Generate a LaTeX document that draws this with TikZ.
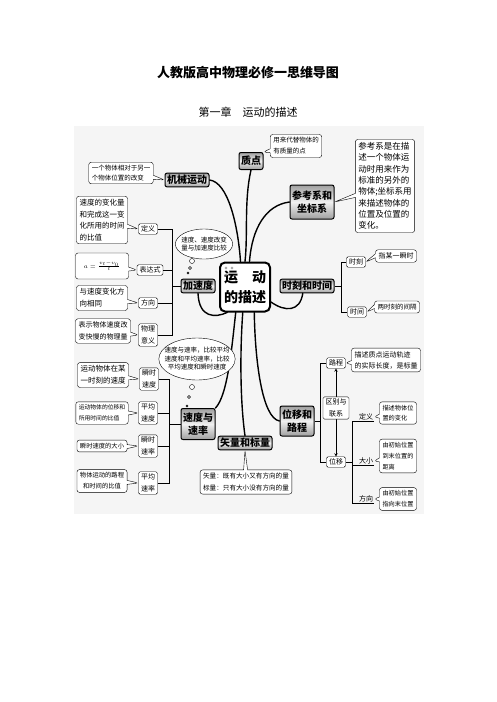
\documentclass[tikz,border=0pt]{standalone}
\usepackage{fontspec}
\setmainfont{Noto Sans CJK SC}
\usetikzlibrary{shapes.callouts,shapes.geometric}
\newcommand{\cochu}[2]{\fontsize{#1}{#2}\selectfont}
\tikzset{
	chude/.style={draw,line width=1pt,rounded corners=2pt,top color=gray!75,bottom color=gray!75,middle color=gray!12,font=\bfseries\cochu{10}{13},inner xsep=2pt,inner ysep=2pt,align=center},
	tam/.style={draw,line width=2pt,rounded corners=5pt,fill=white,minimum width=50pt,minimum height=49pt,font=\bfseries\cochu{14}{20},align=center},
	nhan/.style={draw,rounded corners=1.5pt,fill=white,font=\cochu{7}{12},inner xsep=2.5pt,inner ysep=2pt,align=center},
	ghichu/.style={rectangle callout,draw,rounded corners=2.5pt,fill=white,callout pointer width=4pt,font=\cochu{6.5}{9.5},inner sep=3pt,align=left},
	bongbong/.style={ellipse,draw,fill=white,font=\cochu{6.5}{8.5},align=center},
	nhanh/.style={line width=1.4pt,line cap=round},
	ngoac/.style={line width=.5pt}
}
\begin{document}
\begin{tikzpicture}[x=1pt,y=-1pt]
		\useasboundingbox (0,0) rectangle (496,702);
		% Tiêu đề
		\node[font=\bfseries\cochu{13}{15}] (tieude) at (248,73) {人教版高中物理必修一思维导图};
		\node[font=\cochu{11}{13}] (chuong) at (248,112) {第一章　运动的描述};
		% Nền
		\fill[black!4] (74,126) rectangle (424,514);
		% Nút trung tâm và các chủ đề
		\node[tam] (td) at (245,287) {运\hspace{14pt}动\\的描述};
		\draw[gray] (226,268) circle (1.2) (232,268) circle (1.2) (226,275) circle (1.2);
		\node[chude] (jx) at (187,180) {机械运动};
		\node[chude,minimum height=17pt] (zd) at (251,161) {质点};
		\node[chude,minimum height=34pt] (ckx) at (312,202) {参考系和\\坐标系};
		\node[chude] (jsd) at (198,286) {加速度};
		\node[chude] (sk) at (307,286) {时刻和时间};
		\node[chude,minimum height=31pt] (sdsl) at (198,424) {速度与\\速率};
		\node[chude] (slbl) at (245,443) {矢量和标量};
		\node[chude,minimum height=30pt] (wy) at (297,421) {位移和\\路程};
		% Các nhánh
		\draw[nhanh] (jx.east) .. controls (228,182) and (238,225) .. (td.100);
		\draw[nhanh] (zd.south) .. controls (244,200) and (248,235) .. (td.north);
		\draw[nhanh] (ckx.west) .. controls (266,205) and (252,228) .. (td.80);
		\draw[nhanh] (jsd.south) .. controls (199,318) and (215,318) .. (td.235);
		\draw[nhanh] (sk.240) .. controls (300,312) and (285,312) .. (td.330);
		\draw[nhanh] (sdsl.north east) .. controls (228,395) and (232,345) .. (td.250);
		\draw[nhanh] (slbl.north) .. controls (240,400) and (240,350) .. (td.265);
		\draw[nhanh] (wy.west) .. controls (262,418) and (255,360) .. (td.290);
		% Gia tốc
		\node[nhan] (dy) at (148,229) {定义};
		\node[nhan] (bds) at (150,270) {表达式};
		\node[nhan] (fx) at (148,303) {方向};
		\node[nhan] (wlyy) at (148,335) {物理\\意义};
		\coordinate (g1) at (172,286);
		\draw[ngoac] (dy.east) -| (g1);
		\draw[ngoac] (bds.east) -| (g1);
		\draw[ngoac] (fx.east) -| (g1);
		\draw[ngoac] (wlyy.east) -| (g1);
		\draw[ngoac] (g1) -- (jsd.west);
		% Vận tốc và tốc độ
		\node[nhan] (sssd) at (149,379) {瞬时\\速度};
		\node[nhan] (pjsd) at (148,413) {平均\\速度};
		\node[nhan] (sssl) at (148,446) {瞬时\\速率};
		\node[nhan] (pjsl) at (148,483) {平均\\速率};
		\coordinate (g5) at (169,424);
		\draw[ngoac] (sssd.east) -| (g5);
		\draw[ngoac] (pjsd.east) -| (g5);
		\draw[ngoac] (sssl.east) -| (g5);
		\draw[ngoac] (pjsl.east) -| (g5);
		\draw[ngoac] (g5) -- (sdsl.west);
		% Thời điểm và thời gian
		\node[nhan] (shike) at (356,262) {时刻};
		\node[nhan] (shijian) at (357,312) {时间};
		\coordinate (g2) at (341,286);
		\draw[ngoac] (sk.east) -- (g2);
		\draw[ngoac] (shike.west) -| (g2);
		\draw[ngoac] (shijian.west) -| (g2);
		% Độ dời và quãng đường
		\node[nhan] (lc) at (336,363) {路程};
		\node[nhan] (wyi) at (336,462) {位移};
		\coordinate (g3) at (320,421);
		\draw[ngoac] (wy.east) -- (g3);
		\draw[ngoac] (lc.west) -| (g3);
		\draw[ngoac] (wyi.west) -| (g3);
		\draw[ngoac,<->,>=stealth] (wyi.north) -- (lc.south);
		\node[nhan] (qb) at (336,408) {区别与\\联系};
		\node[font=\cochu{7}{9},inner sep=1pt] (dy2) at (366,417) {定义};
		\node[font=\cochu{7}{9},inner sep=1pt] (dx) at (366,461) {大小};
		\node[font=\cochu{7}{9},inner sep=1pt] (fx2) at (366,499) {方向};
		\coordinate (g4) at (352,462);
		\draw[ngoac] (wyi.east) -- (g4);
		\draw[ngoac] (dy2.south east) -| (g4);
		\draw[ngoac] (dx.south east) -| (g4);
		\draw[ngoac] (fx2.south east) -| (g4);
		% Bong bóng
		\node[bongbong,inner xsep=-2.5pt,minimum height=25pt] (pb1) at (204,244) {速度、速度改变\\量与加速度比较};
		\draw[fill=white] (192,261) circle (2.5) (190,268) circle (1.5) (188,273) circle (1);
		\node[bongbong,inner xsep=-5.5pt,minimum height=36pt] (pb2) at (197,359) {速度与速率，比较平均\\速度和平均速率，比较\\平均速度和瞬时速度};
		\draw[fill=white] (192,387) circle (2.5) (189,397) circle (1.5) (187,406) circle (1);
		% Chú thích
		\node[ghichu,callout absolute pointer={(jx.west)}] (c1) at (121,173) {一个物体相对于另一\\个物体位置的改变};
		\node[ghichu,font=\cochu{7.5}{11.5},callout absolute pointer={(dy.west)}] (c2) at (102,220) {速度的变化量\\和完成这一变\\化所用的时间\\的比值};
		\node[ghichu,minimum width=53pt,minimum height=26pt,callout absolute pointer={(bds.west)}] (c3) at (102,266) {$a=\frac{v_t-v_0}{t}$};
		\node[ghichu,font=\cochu{7.5}{12},callout absolute pointer={(fx.west)}] (c4) at (102,298) {与速度变化方\\向相同};
		\node[ghichu,font=\cochu{7}{12},callout absolute pointer={(wlyy.west)}] (c5) at (103,331) {表示物体速度改\\变快慢的物理量};
		\node[ghichu,font=\cochu{7.5}{12},callout absolute pointer={(sssd.west)}] (c6) at (103,375) {运动物体在某\\一时刻的速度};
		\node[ghichu,font=\cochu{5.8}{11},callout absolute pointer={(pjsd.west)}] (c7) at (102,413) {运动物体的位移和\\所用时间的比值};
		\node[ghichu,font=\cochu{6.3}{9},callout absolute pointer={(sssl.west)}] (c8) at (102,446) {瞬时速度的大小};
		\node[ghichu,font=\cochu{6.3}{11},align=center,callout absolute pointer={(pjsl.west)}] (c9) at (102,481) {物体运动的路程\\和时间的比值};
		\node[ghichu,font=\cochu{6.5}{11},callout absolute pointer={(zd.north east)}] (c10) at (296,146) {用来代替物体的\\有质量的点};
		\node[ghichu,font=\cochu{8.5}{11.3},callout absolute pointer={(ckx.east)}] (c11) at (385,186) {参考系是在描\\述一个物体运\\动时用来作为\\标准的另外的\\物体;坐标系用\\来描述物体的\\位置及位置的\\变化。};
		\node[ghichu,font=\cochu{7}{9},callout absolute pointer={(shike.east)}] (c12) at (396,256) {指某一瞬时};
		\node[ghichu,font=\cochu{6.5}{9},callout absolute pointer={(shijian.east)}] (c13) at (397,307) {两时刻的间隔};
		\node[ghichu,font=\cochu{7}{11},callout absolute pointer={(lc.east)}] (c14) at (386,360) {描述质点运动轨迹\\的实际长度，是标量};
		\node[ghichu,font=\cochu{6.2}{10.5},callout absolute pointer={(dy2.east)}] (c15) at (398,413) {描述物体位\\置的变化};
		\node[ghichu,font=\cochu{6.2}{11},callout absolute pointer={(dx.east)}] (c16) at (398,456) {由初始位置\\到末位置的\\距离};
		\node[ghichu,font=\cochu{6.2}{11},callout absolute pointer={(fx2.east)}] (c17) at (398,499) {由初始位置\\指向末位置};
		\node[ghichu,font=\cochu{6.6}{12},callout absolute pointer={(slbl.south)}] (c18) at (246,482) {矢量：既有大小又有方向的量\\标量：只有大小没有方向的量};
\end{tikzpicture}
\end{document}
